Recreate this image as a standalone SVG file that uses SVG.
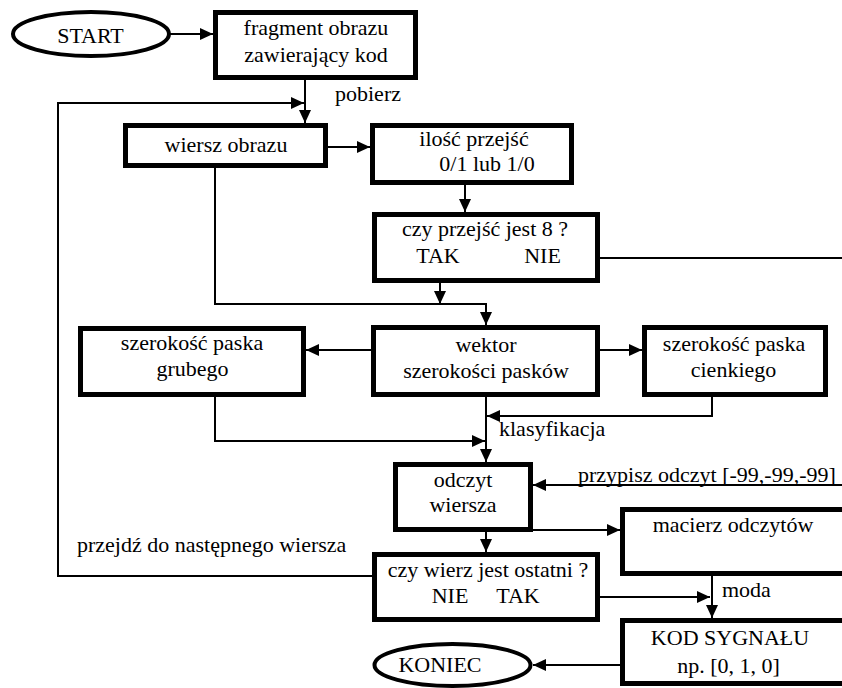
<svg xmlns="http://www.w3.org/2000/svg" width="842" height="688" viewBox="0 0 842 688">
<style>
.box{fill:#fff;stroke:#000;stroke-width:5}
.ell{fill:#fff;stroke:#000;stroke-width:4}
.c{fill:none;stroke:#000;stroke-width:2}
text{font-family:"Liberation Serif","Times New Roman",serif;font-size:22px;fill:#000}
.m{text-anchor:middle}
</style>
<defs>
<marker id="a" markerUnits="userSpaceOnUse" markerWidth="13" markerHeight="12" refX="13" refY="6" orient="auto">
<path d="M0,0 L13,6 L0,12 z" fill="#000"/>
</marker>
</defs>
<rect width="842" height="688" fill="#fff"/>
<g id="connectors">
<path class="c" d="M170,34 H213" marker-end="url(#a)"/>
<path class="c" d="M305,80 V123" marker-end="url(#a)"/>
<path class="c" d="M372,576 H58 V103 H304" marker-end="url(#a)"/>
<path class="c" d="M328,147 H370" marker-end="url(#a)"/>
<path class="c" d="M465,185 V212" marker-end="url(#a)"/>
<path class="c" d="M600,258 H842"/>
<path class="c" d="M215,168 V304 H486 V325" marker-end="url(#a)"/>
<path class="c" d="M440,283 V304" marker-end="url(#a)"/>
<path class="c" d="M600,350 H642" marker-end="url(#a)"/>
<path class="c" d="M371,350 H306" marker-end="url(#a)"/>
<path class="c" d="M215,397 V441 H485" marker-end="url(#a)"/>
<path class="c" d="M712,397 V416 H487" marker-end="url(#a)"/>
<path class="c" d="M486,397 V462" marker-end="url(#a)"/>
<path class="c" d="M842,485 H533" marker-end="url(#a)"/>
<path class="c" d="M533,530 H620" marker-end="url(#a)"/>
<path class="c" d="M486,532 V552" marker-end="url(#a)"/>
<path class="c" d="M600,597 H710" marker-end="url(#a)"/>
<path class="c" d="M712,576 V618" marker-end="url(#a)"/>
<path class="c" d="M620,665 H533" marker-end="url(#a)"/>
<text x="335" y="101">pobierz</text>
<text x="499" y="436">klasyfikacja</text>
<text x="578" y="482">przypisz odczyt [-99,-99,-99]</text>
<text x="77" y="552">przejdź do następnego wiersza</text>
<text x="722" y="597">moda</text>
</g>
<g id="start">
<ellipse class="ell" cx="91" cy="34" rx="78" ry="22"/>
<text class="m" x="90.5" y="43">START</text>
</g>
<g id="fragment">
<rect class="box" x="215.5" y="12.5" width="200" height="65"/>
<text class="m" x="316" y="35">fragment obrazu</text>
<text class="m" x="316" y="62">zawierający kod</text>
</g>
<g id="wiersz">
<rect class="box" x="125.5" y="125.5" width="200" height="40"/>
<text class="m" x="226" y="152">wiersz obrazu</text>
</g>
<g id="ilosc">
<rect class="box" x="372.5" y="125.5" width="199" height="57"/>
<text class="m" x="474" y="146">ilość przejść</text>
<text class="m" x="487" y="171">0/1 lub 1/0</text>
</g>
<g id="czy8">
<rect class="box" x="374.5" y="214.5" width="223" height="66"/>
<text class="m" x="485" y="236">czy przejść jest 8 ?</text>
<text class="m" x="438" y="263">TAK</text>
<text class="m" x="542.5" y="263">NIE</text>
</g>
<g id="wektor">
<rect class="box" x="373.5" y="327.5" width="224" height="67"/>
<text class="m" x="486" y="352">wektor</text>
<text class="m" x="486" y="378">szerokości pasków</text>
</g>
<g id="grubego">
<rect class="box" x="80.5" y="328.5" width="223" height="66"/>
<text class="m" x="192" y="350">szerokość paska</text>
<text class="m" x="192.5" y="376">grubego</text>
</g>
<g id="cienkiego">
<rect class="box" x="644.5" y="327.5" width="181" height="67"/>
<text class="m" x="734" y="351">szerokość paska</text>
<text class="m" x="733.5" y="377">cienkiego</text>
</g>
<g id="odczyt">
<rect class="box" x="395.5" y="464.5" width="135" height="65"/>
<text class="m" x="463" y="487">odczyt</text>
<text class="m" x="463" y="512">wiersza</text>
</g>
<g id="macierz">
<rect class="box" x="622.5" y="509.5" width="240" height="64"/>
<text class="m" x="733" y="532">macierz odczytów</text>
</g>
<g id="ostatni">
<rect class="box" x="374.5" y="554.5" width="223" height="65"/>
<text class="m" x="488" y="577">czy wierz jest ostatni ?</text>
<text class="m" x="450" y="603">NIE</text>
<text class="m" x="518" y="603">TAK</text>
</g>
<g id="kod">
<rect class="box" x="622.5" y="620.5" width="240" height="63"/>
<text class="m" x="730" y="645">KOD SYGNAŁU</text>
<text class="m" x="728.5" y="673">np. [0, 1, 0]</text>
</g>
<g id="koniec">
<ellipse class="ell" cx="452.5" cy="665" rx="78" ry="21"/>
<text class="m" x="440" y="672">KONIEC</text>
</g>
</svg>
